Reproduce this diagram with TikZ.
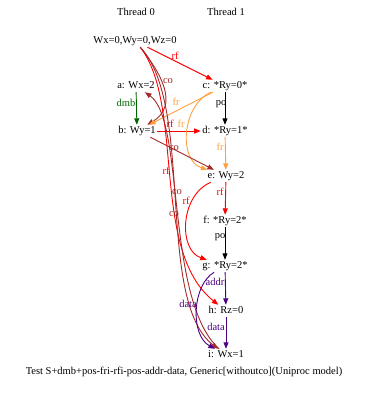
\documentclass[tikz,border=0pt]{standalone}
\usepackage{fontspec}
\setmainfont{Liberation Serif}
\usetikzlibrary{arrows.meta}
\definecolor{cbrown}{HTML}{A52A2A}
\definecolor{cfr}{HTML}{FFA040}
\definecolor{cdmb}{HTML}{006400}
\definecolor{cdep}{HTML}{4B0082}
\tikzset{
  x=1pt,y=-1pt,
  ev/.style={inner sep=1.5pt,font=\fontsize{10.5}{12}\selectfont,text height=7pt,text depth=2pt},
  lbl/.style={inner sep=0pt,font=\fontsize{10.5}{12}\selectfont},
  edge/.style={line width=0.9pt,-{Triangle[length=6.5pt,width=5pt]}},
  rfe/.style={edge,red},
  coe/.style={edge,cbrown},
  fre/.style={edge,cfr},
  poe/.style={edge,black},
  dmbe/.style={edge,cdmb},
  depe/.style={edge,cdep},
}
\begin{document}
\begin{tikzpicture}
\useasboundingbox (0,0) rectangle (370,394);
% threads
\node[ev] (t0) at (136,13) {Thread 0};
\node[ev] (t1) at (226,13) {Thread 1};
% events
\node[ev] (init) at (135,41) {Wx=0,Wy=0,Wz=0};
\node[ev] (a) at (136,86) {a: Wx=2};
\node[ev] (b) at (137,131) {b: Wy=1};
\node[ev] (c) at (225,86) {c: *Ry=0*};
\node[ev] (d) at (225,131) {d: *Ry=1*};
\node[ev] (e) at (226,176) {e: Wy=2};
\node[ev] (f) at (225,221) {f: *Ry=2*};
\node[ev] (g) at (225,266) {g: *Ry=2*};
\node[ev] (h) at (226,311) {h: Rz=0};
\node[ev] (i) at (226,355) {i: Wx=1};
\node[ev] (cap) at (184,372) {Test S+dmb+pos-fri-rfi-pos-addr-data, Generic[withoutco](Uniproc model)};
% edges
\draw[rfe] (init) -- (c);
\node[lbl,red] (l1) at (175,56) {rf};
\draw[coe] (init.-50) .. controls (160,72) and (180,105) .. (b);
\node[lbl,cbrown] (l2) at (168,81) {co};
\draw[dmbe] (a) -- (b);
\node[lbl,cdmb] (l3) at (126,103) {dmb};
\draw[fre] (c) -- (b);
\node[lbl,cfr] (l4) at (176,102) {fr};
\draw[poe] (c) -- (d);
\node[lbl,black] (l5) at (221,104) {po};
\draw[rfe] (b) -- (d);
\node[lbl,red] (l6) at (170,124) {rf};
\draw[fre] (c) .. controls (182,105) and (178,160) .. (e);
\node[lbl,cfr] (l7) at (181,124) {fr};
\draw[coe] (b.-25) -- (e);
\node[lbl,cbrown] (l8) at (174,148) {co};
\draw[fre] (d) -- (e);
\node[lbl,cfr] (l9) at (220,147) {fr};
\draw[rfe] (init.-50) .. controls (185,105) and (150,250) .. (h);
\node[lbl,red] (l10) at (166,171) {rf};
\draw[coe] (init.-50) .. controls (195,105) and (155,300) .. (i);
\draw[coe] (i) .. controls (165,300) and (185,120) .. (a);
\node[lbl,cbrown] (l11) at (177,192) {co};
\node[lbl,cbrown] (l12) at (174,214) {co};
\draw[rfe] (e) -- (f);
\node[lbl,red] (l13) at (220,192) {rf};
\draw[rfe] (e) .. controls (180,195) and (178,250) .. (g);
\node[lbl,red] (l14) at (186,201) {rf};
\draw[poe] (f) -- (g);
\node[lbl,black] (l15) at (220,237) {po};
\draw[depe] (g) -- (h);
\node[lbl,cdep] (l16) at (215,282) {addr};
\draw[depe] (g) .. controls (192,285) and (190,335) .. (i);
\node[lbl,cdep] (l17) at (188,304) {data};
\draw[depe] (h) -- (i);
\node[lbl,cdep] (l18) at (216,327) {data};
\end{tikzpicture}
\end{document}
